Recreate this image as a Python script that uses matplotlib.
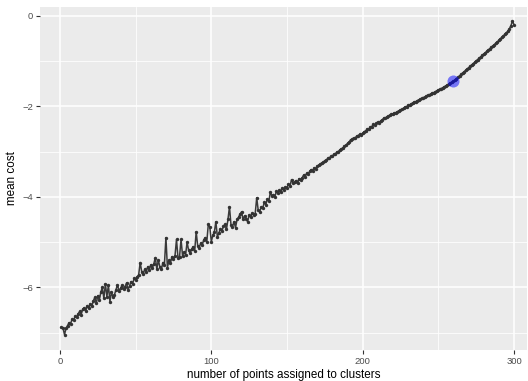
import matplotlib
matplotlib.use("Agg")
import matplotlib.pyplot as plt
import numpy as np

plt.rcParams['font.family'] = ['Liberation Sans', 'DejaVu Sans']

# mean cost, one value per number of assigned points (1..300)
cost = [
    -6.88, -6.90, -7.04, -6.90, -6.84, -6.78, -6.80, -6.70, -6.72, -6.64,
    -6.66, -6.58, -6.53, -6.60, -6.48, -6.45, -6.52, -6.40, -6.46, -6.36,
    -6.42, -6.30, -6.22, -6.35, -6.18, -6.28, -6.10, -6.00, -6.24, -5.92,
    -6.20, -5.95, -6.31, -6.10, -6.22, -6.16, -6.05, -5.94, -6.08, -6.02,
    -5.95, -6.04, -5.98, -5.90, -6.05, -5.96, -5.87, -5.92, -5.80, -5.84,
    -5.76, -5.72, -5.45, -5.65, -5.70, -5.60, -5.66, -5.54, -5.62, -5.50,
    -5.58, -5.48, -5.34, -5.60, -5.39, -5.55, -5.60, -5.45, -5.50, -4.90,
    -5.56, -5.40, -5.46, -5.32, -5.38, -5.30, -4.94, -5.36, -5.32, -4.94,
    -5.30, -5.22, -5.28, -5.00, -5.18, -5.25, -5.16, -5.10, -5.20, -4.77,
    -5.08, -5.12, -5.02, -5.06, -4.95, -4.90, -5.00, -4.61, -4.66, -4.99,
    -4.85, -4.78, -4.55, -4.88, -4.80, -4.70, -4.76, -4.65, -4.61, -4.72,
    -4.50, -4.22, -4.62, -4.66, -4.55, -4.68, -4.50, -4.45, -4.38, -4.33,
    -4.50, -4.42, -4.48, -4.55, -4.40, -4.45, -4.36, -4.40, -4.37, -4.02,
    -4.30, -4.33, -4.22, -4.25, -4.12, -4.18, -4.05, -4.10, -3.90, -3.98,
    -3.95, -4.00, -3.88, -3.92, -3.85, -3.90, -3.80, -3.84, -3.78, -3.80,
    -3.72, -3.76, -3.62, -3.70, -3.68, -3.64, -3.70, -3.60, -3.62, -3.58,
    -3.52, -3.56, -3.48, -3.50, -3.44, -3.40, -3.42, -3.36, -3.38, -3.32,
    -3.30, -3.28, -3.25, -3.24, -3.20, -3.19, -3.15, -3.14, -3.11, -3.10,
    -3.06, -3.05, -3.01, -3.00, -2.96, -2.94, -2.92, -2.88, -2.86, -2.82,
    -2.80, -2.74, -2.73, -2.70, -2.71, -2.66, -2.65, -2.62, -2.63, -2.60,
    -2.56, -2.55, -2.50, -2.51, -2.46, -2.45, -2.40, -2.42, -2.38, -2.35,
    -2.36, -2.32, -2.30, -2.26, -2.27, -2.23, -2.22, -2.20, -2.18, -2.17,
    -2.15, -2.14, -2.12, -2.10, -2.09, -2.07, -2.05, -2.02, -2.01, -1.98,
    -1.97, -1.95, -1.93, -1.91, -1.90, -1.88, -1.86, -1.85, -1.83, -1.81,
    -1.80, -1.78, -1.76, -1.75, -1.73, -1.71, -1.70, -1.68, -1.66, -1.64,
    -1.63, -1.61, -1.59, -1.57, -1.55, -1.53, -1.51, -1.49, -1.47, -1.45,
    -1.42, -1.39, -1.36, -1.33, -1.30, -1.27, -1.24, -1.21, -1.18, -1.15,
    -1.12, -1.09, -1.06, -1.03, -1.00, -0.97, -0.94, -0.91, -0.88, -0.85,
    -0.82, -0.79, -0.76, -0.73, -0.70, -0.67, -0.64, -0.61, -0.58, -0.55,
    -0.51, -0.48, -0.45, -0.41, -0.38, -0.34, -0.29, -0.22, -0.12, -0.20,
]
n_points = list(range(1, len(cost) + 1))
chosen = 260  # highlighted point

x_ticks = [0, 100, 200, 300]
y_ticks = [-6, -4, -2, 0]

fig = plt.figure(figsize=(5.28, 3.81), dpi=100)
ax = fig.add_axes([40/528, 31/381, 487/528, 343.5/381])
ax.set_facecolor('#EBEBEB')
for s in ax.spines.values():
    s.set_visible(False)

ax.set_xticks(x_ticks)
ax.set_yticks(y_ticks)
ax.set_xticks([50, 150, 250], minor=True)
ax.set_yticks([-7, -5, -3, -1], minor=True)
ax.grid(which='major', color='white', linewidth=1.1)
ax.grid(which='minor', color='white', linewidth=0.55)
ax.set_axisbelow(True)
ax.tick_params(which='major', length=3, width=0.8, color='#333333',
               labelsize=6.8, labelcolor='#4D4D4D', pad=2)
ax.tick_params(which='minor', length=0)

ax.plot(n_points, cost, color='#3a3a3a', linewidth=1.1, zorder=3)
ax.scatter(n_points, cost, s=6, color='#333333', zorder=4, linewidths=0)
ax.scatter([chosen], [cost[chosen - 1]], s=75, color='blue', alpha=0.5,
           linewidths=0, zorder=5)

ax.set_xlim(-13.2, 308.6)
ax.set_ylim(-7.38, 0.2)
ax.set_xlabel('number of points assigned to clusters', fontsize=8.4, labelpad=2)
ax.set_ylabel('mean cost', fontsize=8.4, labelpad=3)

fig.savefig('out.png', dpi=100)
